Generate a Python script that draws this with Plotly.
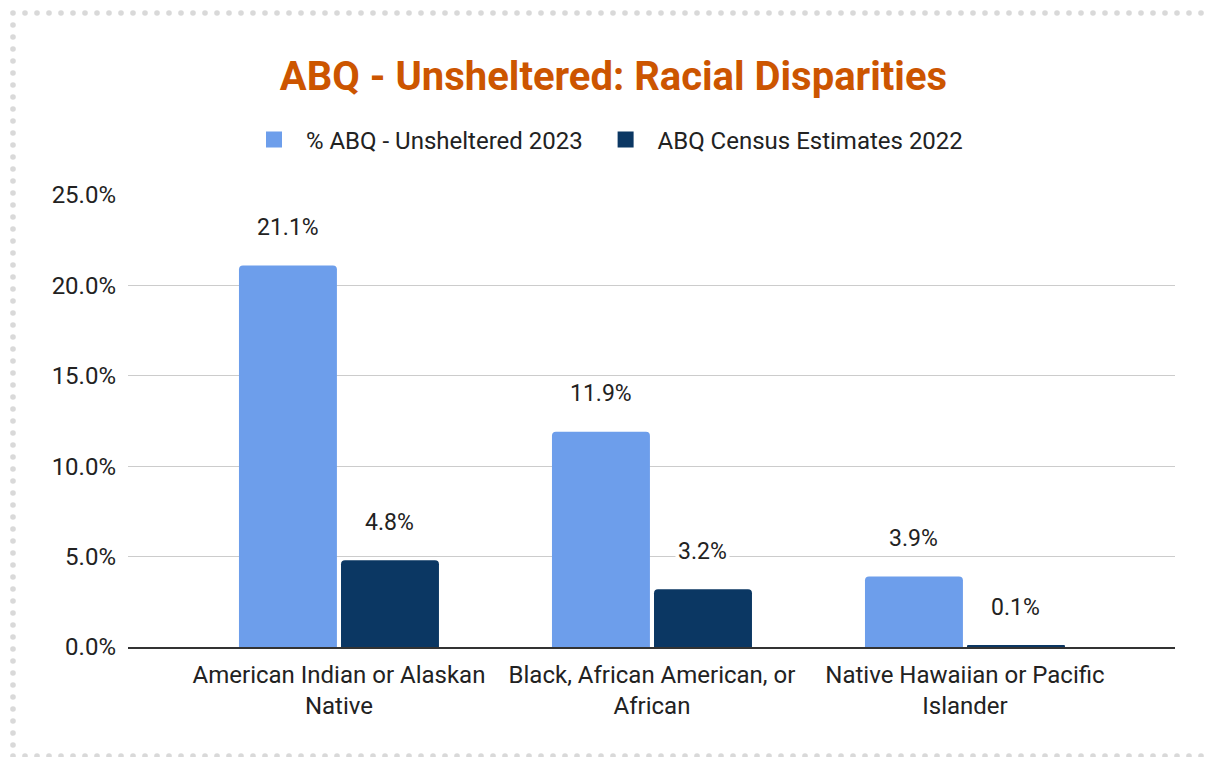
import plotly.graph_objects as go

# Data
categories = [
    "American Indian or Alaskan<br>Native",
    "Black, African American, or<br>African",
    "Native Hawaiian or Pacific<br>Islander",
]
unsheltered_2023 = [21.1, 11.9, 3.9]
census_2022 = [4.8, 3.2, 0.1]
series_names = ["% ABQ - Unsheltered 2023", "ABQ Census Estimates 2022"]
y_ticks = [0, 5, 10, 15, 20, 25]

# Styling
W, H = 1210, 757
ML, MR, MT, MB = 128, 35, 195, 110
PLOT_W = W - ML - MR
PLOT_H = H - MT - MB
X_RANGE = [-0.674, 2.671]
BARGAP = 0.348
LIGHT = "#6d9eeb"
DARK = "#0b3763"
TITLE_COLOR = "#cc5500"
TEXT = "#222222"
FONT = "Roboto"
FS = 24
NB = "\u00a0"

fig = go.Figure()
legend_labels = [NB * 2 + series_names[0] + NB * 3, NB * 2 + series_names[1]]
for name, label, vals, color in [(series_names[0], legend_labels[0], unsheltered_2023, LIGHT),
                                 (series_names[1], legend_labels[1], census_2022, DARK)]:
    fig.add_trace(go.Bar(x=categories, y=vals, name=name, marker_color=color,
                         marker_line_width=0, showlegend=False))
    # legend swatch
    fig.add_trace(go.Scatter(x=[None], y=[None], mode="markers", name=label,
                             marker=dict(symbol="square", size=17, color=color)))

# Value labels above each bar
px_per_unit = PLOT_W / (X_RANGE[1] - X_RANGE[0])
offset = (1 - BARGAP) / 4 * px_per_unit
for vals, sh in [(unsheltered_2023, -offset), (census_2022, offset)]:
    for c, v in zip(categories, vals):
        fig.add_annotation(x=c, y=v, xref="x", yref="y", text=f"{v:.1f}%",
                           showarrow=False, xshift=sh, yshift=38,
                           yanchor="middle", bgcolor="white", borderpad=2,
                           font=dict(family=FONT, size=23, color=TEXT))

# Dotted frame
def px_to_paper(px, py):
    return (px - ML) / PLOT_W, 1 - (py - MT) / PLOT_H

dots = []
for x in range(13, W + 6, 12):
    dots.append((x, 13))
    dots.append((x, 756))
for y in range(25, 756, 12):
    dots.append((13, y))
r = 2.8
for (px, py) in dots:
    xp, yp = px_to_paper(px, py)
    fig.add_shape(type="circle", xref="paper", yref="paper",
                  xsizemode="pixel", ysizemode="pixel",
                  xanchor=xp, yanchor=yp, x0=-r, x1=r, y0=-r, y1=r,
                  fillcolor="#d9d9d9", line_width=0, layer="below")

fig.update_layout(
    width=W, height=H,
    margin=dict(l=ML, r=MR, t=MT, b=MB),
    paper_bgcolor="white", plot_bgcolor="white",
    font=dict(family=FONT, size=FS, color=TEXT),
    title=dict(text="<b>ABQ - Unsheltered: Racial Disparities</b>",
               font=dict(family=FONT, size=40, color=TITLE_COLOR),
               x=0.507, xanchor="center", xref="container",
               y=1 - 76 / H, yanchor="middle", yref="container"),
    barmode="group", bargap=BARGAP, bargroupgap=0.04, barcornerradius=4,
    legend=dict(orientation="h", x=(611 - ML) / PLOT_W, xanchor="center",
                y=1 + (MT - 140) / PLOT_H, yanchor="middle",
                font=dict(family=FONT, size=FS, color=TEXT),
                itemsizing="trace", traceorder="normal"),
    xaxis=dict(range=X_RANGE, showgrid=False, showline=True, linecolor="#333333",
               linewidth=2, ticks="", ticklabelstandoff=5,
               tickfont=dict(size=FS, color=TEXT), zeroline=False),
    yaxis=dict(range=[0, 25], tickvals=y_ticks, ticktext=[f"{t:.1f}%" for t in y_ticks],
               showgrid=True, gridcolor="#cccccc", gridwidth=1, zeroline=False,
               ticks="", ticklabelstandoff=11, tickfont=dict(size=FS, color=TEXT)),
)

fig.write_html("out.html")
